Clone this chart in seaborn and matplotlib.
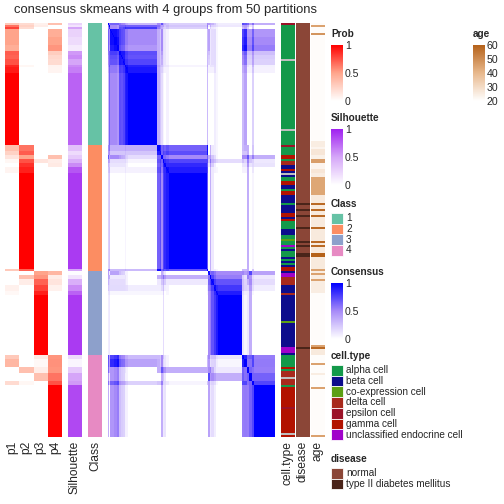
import numpy as np
import pandas as pd
import matplotlib
matplotlib.use("Agg")
import matplotlib.pyplot as plt
import seaborn as sns
from matplotlib.colors import LinearSegmentedColormap, ListedColormap, Normalize
from matplotlib.cm import ScalarMappable
from matplotlib.patches import Rectangle

# membership probabilities, run-length segments (top to bottom)
seg_rows = [1, 1, 1, 4, 4, 3, 2, 2, 3, 1, 3, 36,
            3, 2, 2, 2, 2, 3, 48, 1,
            2, 2, 3, 3, 2, 30,
            2, 4, 3, 4, 2, 26]
seg_p1 = [.30, .65, .80, .50, .50, .45, .72, .70, .75, .88, .92, 1.0,
          .35, .25, .15, .05, 0, .06, 0, .30,
          0, 0, 0, .08, .04, 0,
          .30, .40, 0, 0, .20, 0]
seg_p2 = [.20, .25, .20, 0, 0, 0, 0, 0, 0, .05, 0, 0,
          .65, .72, .50, .75, .85, .90, 1.0, .70,
          0, .35, .10, 0, 0, 0,
          0, 0, .35, 0, .05, 0]
seg_p3 = [.08, .10, 0, 0, 0, 0, 0, 0, 0, 0, 0, 0,
          0, 0, 0, .15, 0, 0, 0, 0,
          .50, .55, .70, .80, .90, 1.0,
          .12, .04, .10, .35, 0, 0]
seg_p4 = [.35, 0, 0, .45, .50, .55, .28, .22, .20, .07, .06, 0,
          0, 0, .35, .10, .12, 0, 0, 0,
          .40, .10, .15, .08, 0, 0,
          .55, .56, .55, .65, .75, 1.0]
seg_sil = [.25, .15, .50, .25, .20, .12, .55, .60, .50, .60, .65, .75,
           .35, .20, .30, .45, .60, .80, .90, .50,
           .02, .15, .45, .60, .75, .90,
           .20, .06, .30, .50, .55, .85]

class_labels = ["1", "2", "3", "4"]
class_rows = [61, 63, 42, 41]

celltype_names = ["alpha cell", "beta cell", "co-expression cell", "delta cell",
                  "epsilon cell", "gamma cell", "unclassified endocrine cell"]
# codes: A alpha, B beta, C co-expression, D delta, E epsilon, G gamma, U unclassified, N missing
celltype_runs = ["E", "A", "N", "A", "N", "A",
                 "E", "A", "G", "A", "D", "B", "G", "B", "N", "B", "A", "G", "B", "A", "G", "B",
                 "A", "B", "G", "B", "G", "A", "B", "A", "C", "A", "U", "A", "B", "A", "B", "A",
                 "B", "A", "B", "G", "G",
                 "B", "U", "D", "B", "D", "B", "C", "B", "U", "B",
                 "A", "G", "A", "D", "N", "D", "A", "G", "E", "G", "N", "G"]
celltype_run_rows = [1, 17, 1, 34, 1, 7,
                     1, 4, 2, 1, 2, 2, 1, 1, 1, 1, 2, 2, 2, 1, 2, 4,
                     1, 4, 2, 1, 1, 4, 3, 2, 1, 2, 1, 1, 1, 3, 1, 1,
                     1, 1, 1, 1, 1,
                     1, 2, 4, 4, 1, 13, 1, 12, 3, 1,
                     6, 1, 1, 3, 1, 3, 1, 10, 1, 12, 1, 1]

disease_names = ["normal", "type II diabetes mellitus"]
disease_runs = [0, 1, 0, 1, 0, 1, 0, 1, 0, 1, 0, 1, 0, 1, 0, 1, 0]
disease_run_rows = [90, 1, 2, 1, 2, 1, 5, 1, 6, 1, 1, 1, 3, 2, 45, 1, 44]

age_runs = [21, 45, 21, 48, 21, 25, 23, 27, 24, 46, 23, 27, 25, 44, 26, 58, 26, 58, 26,
            58, 26, 58, 26, 58, 26, 58, 26, 60, 26, 45, 25, 45, 25, 45, 25, 21, 45, 58,
            26, 21, 45, 21, 25, 21, 45, 21, 45]
age_run_rows = [1, 1, 3, 1, 53, 3, 1, 3, 2, 2, 3, 2, 2, 9, 4, 1, 2, 1, 2,
                1, 5, 1, 6, 1, 1, 1, 3, 2, 6, 1, 1, 1, 2, 1, 6, 26, 1, 1,
                3, 4, 1, 4, 1, 6, 1, 23, 1]

class_colors = ["#66c2a5", "#fc8d62", "#8da0cb", "#e78ac3"]
celltype_colors = {"A": "#13994a", "B": "#0c0c8c", "C": "#5c9f14", "D": "#a8291c",
                   "E": "#9b1228", "G": "#b21200", "U": "#a002ca", "N": "#bebebe"}
disease_colors = ["#8b4637", "#4a2419"]

prob_cmap = LinearSegmentedColormap.from_list("prob", ["#ffffff", "#ffa58c", "#ff0000"])
sil_cmap = LinearSegmentedColormap.from_list("sil", ["#ffffff", "#d5a6f8", "#a020f0"])
cons_cmap = LinearSegmentedColormap.from_list("cons", ["#ffffff", "#a78bf8", "#0000ff"])
age_cmap = LinearSegmentedColormap.from_list("age", ["#ffffff", "#e8b88c", "#b5621a"])

W = 504
TOP, BOTTOM = 23, 437


def px_axes(fig, x0, y0, x1, y1):
    return fig.add_axes([x0 / W, 1 - y1 / W, (x1 - x0) / W, (y1 - y0) / W])


def strip(fig, x0, x1, df, cmap, vmin, vmax):
    ax = px_axes(fig, x0, TOP, x1, BOTTOM)
    sns.heatmap(df, ax=ax, cmap=cmap, vmin=vmin, vmax=vmax, cbar=False,
                xticklabels=False, yticklabels=False)
    ax.set_xlabel("")
    ax.set_ylabel("")
    return ax


def gradient_legend(fig, lay, title, x, y_top, y_bot, cmap, vmin, vmax, ticks, labels):
    lay.text(x, y_top - 11, title, fontsize=10, fontweight="bold", va="center")
    cax = px_axes(fig, x, y_top, x + 12, y_bot)
    cb = fig.colorbar(ScalarMappable(Normalize(vmin, vmax), cmap), cax=cax, ticks=ticks)
    cb.outline.set_visible(False)
    cb.set_ticklabels(labels)
    cax.tick_params(direction="in", color="white", length=3, width=0.8,
                    left=True, right=True, labelsize=10.5, pad=2)


def swatch_legend(lay, title, x, y_top, colors, labels):
    lay.text(x, y_top - 9, title, fontsize=10, fontweight="bold", va="center")
    h = 10.7
    for i, (c, lab) in enumerate(zip(colors, labels)):
        lay.add_patch(Rectangle((x, y_top + i * h), 11.5, h, facecolor=c,
                                edgecolor="white", linewidth=0.8))
        lay.text(x + 15, y_top + i * h + h / 2, lab, fontsize=10, va="center")


def main():
    sns.set_theme(style="white")
    plt.rcParams["font.family"] = ["Liberation Sans", "DejaVu Sans"]

    probs = pd.DataFrame({
        "p1": np.repeat(seg_p1, seg_rows),
        "p2": np.repeat(seg_p2, seg_rows),
        "p3": np.repeat(seg_p3, seg_rows),
        "p4": np.repeat(seg_p4, seg_rows),
    })
    sil = pd.DataFrame({"Silhouette": np.repeat(seg_sil, seg_rows)})
    cls = pd.DataFrame({"Class": np.repeat(np.arange(len(class_labels)), class_rows)})

    ct_codes = list(celltype_colors.keys())
    cell = pd.DataFrame({"cell.type": np.repeat([ct_codes.index(c) for c in celltype_runs],
                                                celltype_run_rows)})
    disease = pd.DataFrame({"disease": np.repeat(disease_runs, disease_run_rows)})
    age = pd.DataFrame({"age": np.repeat(age_runs, age_run_rows)})

    # consensus between samples from the overlap of their membership
    P = probs.values
    cons = np.minimum(P[:, None, :], P[None, :, :]).sum(axis=2)
    np.fill_diagonal(cons, 1.0)
    cons = np.clip(cons, 0, 1)

    fig = plt.figure(figsize=(7, 7), dpi=72)
    lay = fig.add_axes([0, 0, 1, 1])
    lay.set_xlim(0, W)
    lay.set_ylim(W, 0)
    lay.axis("off")

    strip(fig, 5, 62, probs, prob_cmap, 0, 1)
    strip(fig, 68, 82, sil, sil_cmap, 0, 1)
    strip(fig, 88, 102, cls, ListedColormap(class_colors), -0.5, 3.5)
    strip(fig, 108, 275, pd.DataFrame(cons), cons_cmap, 0, 1)
    strip(fig, 281, 295, cell, ListedColormap(list(celltype_colors.values())), -0.5, 7.5)
    strip(fig, 296, 310, disease, ListedColormap(disease_colors), -0.5, 1.5)
    strip(fig, 311, 325, age, age_cmap, 20, 60)

    lay.text(165, 10, "consensus skmeans with 4 groups from 50 partitions",
             fontsize=13, ha="center", va="center")

    bottom_labels = [("p1", 12.1), ("p2", 26.4), ("p3", 40.6), ("p4", 54.9),
                     ("Silhouette", 75), ("Class", 95),
                     ("cell.type", 288), ("disease", 303), ("age", 318)]
    for lab, xc in bottom_labels:
        lay.text(xc, 441, lab, fontsize=12, rotation=90, ha="center", va="top")

    gradient_legend(fig, lay, "Prob", 331, 45, 101, prob_cmap, 0, 1,
                    [0, 0.5, 1], ["0", "0.5", "1"])
    gradient_legend(fig, lay, "Silhouette", 331, 129, 185, sil_cmap, 0, 1,
                    [0, 0.5, 1], ["0", "0.5", "1"])
    gradient_legend(fig, lay, "Consensus", 331, 283, 339, cons_cmap, 0, 1,
                    [0, 0.5, 1], ["0", "0.5", "1"])
    gradient_legend(fig, lay, "age", 472.5, 45, 101, age_cmap, 20, 60,
                    [20, 30, 40, 50, 60], ["20", "30", "40", "50", "60"])

    swatch_legend(lay, "Class", 331, 213, class_colors, class_labels)
    swatch_legend(lay, "cell.type", 331, 365,
                  [celltype_colors[c] for c in "ABCDEGU"], celltype_names)
    swatch_legend(lay, "disease", 331, 468, disease_colors, disease_names)

    fig.savefig("out.png", dpi=72)


if __name__ == "__main__":
    main()
